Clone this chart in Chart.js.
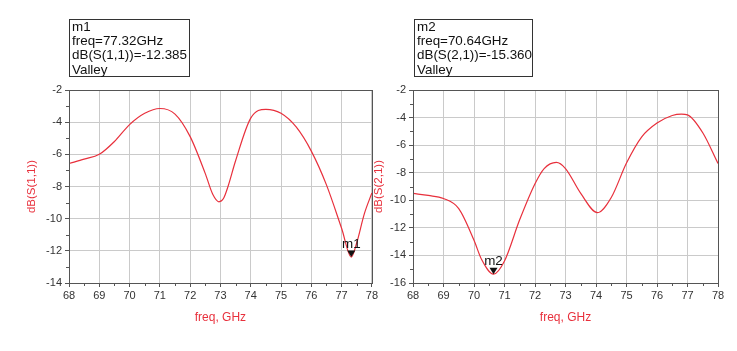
<!DOCTYPE html>
<html>
<head>
<meta charset="utf-8">
<script src="https://cdn.jsdelivr.net/npm/chart.js@4.4.0/dist/chart.umd.min.js"></script>
<style>
body { margin: 0; background: #fff; width: 737px; height: 351px; position: relative; overflow: hidden; font-family: "Liberation Sans", Arial, sans-serif; }
canvas { position: absolute; top: 0; }
#chartS11 { left: 0; }
#chartS21 { left: 360px; }
.marker { position: absolute; top: 19px; height: 58px; border: 1px solid #333; box-sizing: border-box; padding-left: 2px; font-size: 13.4px; line-height: 14.2px; color: #111; white-space: nowrap; }
#boxS11 { left: 69px; width: 121px; }
#boxS21 { left: 414px; width: 119px; }
</style>
</head>
<body>
<canvas id="chartS11" width="380" height="351"></canvas>
<canvas id="chartS21" width="377" height="351"></canvas>
<div class="marker" id="boxS11">m1<br>freq=77.32GHz<br>dB(S(1,1))=-12.385<br>Valley</div>
<div class="marker" id="boxS21">m2<br>freq=70.64GHz<br>dB(S(2,1))=-15.360<br>Valley</div>
<script>
// S11
var freqS11 = [68, 68.5, 69, 69.5, 70, 70.5, 71, 71.5, 72, 72.5, 72.75, 72.95, 73.1, 73.25, 73.5, 74, 74.5, 75, 75.5, 76, 76.5, 77, 77.32, 77.5, 77.75, 78];
var dbS11   = [-6.57, -6.3, -6.0, -5.2, -4.15, -3.45, -3.15, -3.5, -4.9, -7.2, -8.5, -8.95, -8.75, -8.0, -6.4, -3.75, -3.2, -3.45, -4.3, -5.8, -7.9, -10.6, -12.385, -11.5, -9.7, -8.4];

// S21
var freqS21 = [68, 68.5, 69, 69.5, 70, 70.25, 70.64, 71, 71.5, 72, 72.3, 72.7, 73, 73.5, 74.05, 74.5, 75, 75.5, 76, 76.5, 76.8, 77, 77.5, 78];
var dbS21   = [-9.5, -9.65, -9.87, -10.6, -12.9, -14.3, -15.36, -14.4, -11.4, -8.8, -7.7, -7.25, -7.7, -9.5, -10.9, -9.8, -7.3, -5.4, -4.4, -3.85, -3.75, -3.8, -5.1, -7.33];

var xTicks = [68, 69, 70, 71, 72, 73, 74, 75, 76, 77, 78];
var markerS11 = { name: 'm1', freq: 77.32, db: -12.385 };
var markerS21 = { name: 'm2', freq: 70.64, db: -15.360 };

var red = '#e8303c';
var tickFont = { family: '"Liberation Sans", Arial, sans-serif', size: 11 };

var framePlugin = {
    id: 'frame',
    afterDraw: function (chart) {
        var ctx = chart.ctx;
        var a = chart.chartArea;
        var xs = chart.scales.x;
        var ys = chart.scales.y;
        ctx.save();
        ctx.strokeStyle = '#555';
        ctx.lineWidth = 1;
        ctx.strokeRect(Math.round(a.left) + 0.5, Math.round(a.top) + 0.5, Math.round(a.right - a.left), Math.round(a.bottom - a.top));
        // minor ticks
        ctx.beginPath();
        for (var f = xs.min + 0.5; f < xs.max; f += 1) {
            var px = Math.round(xs.getPixelForValue(f)) + 0.5;
            ctx.moveTo(px, a.bottom);
            ctx.lineTo(px, a.bottom + 3);
        }
        for (var v = ys.min + 1; v < ys.max; v += 2) {
            var py = Math.round(ys.getPixelForValue(v)) + 0.5;
            ctx.moveTo(a.left - 3, py);
            ctx.lineTo(a.left, py);
        }
        ctx.stroke();
        // marker
        var m = chart.options.plugins.frame.marker;
        var mx = xs.getPixelForValue(m.freq);
        var my = ys.getPixelForValue(m.db);
        ctx.fillStyle = '#111';
        ctx.beginPath();
        ctx.moveTo(mx, my);
        ctx.lineTo(mx - 4, my - 6.5);
        ctx.lineTo(mx + 4, my - 6.5);
        ctx.closePath();
        ctx.fill();
        ctx.font = '13.4px "Liberation Sans", Arial, sans-serif';
        ctx.textAlign = 'center';
        ctx.textBaseline = 'alphabetic';
        ctx.fillText(m.name, mx, my - 9);
        ctx.restore();
    }
};

function makeChart(id, freq, values, marker, yTitle, yMin, axisWidth, titlePad, rightPad) {
    var points = freq.map(function (f, i) { return { x: f, y: values[i] }; });
    return new Chart(document.getElementById(id).getContext('2d'), {
        type: 'line',
        data: {
            datasets: [{
                data: points,
                borderColor: red,
                borderWidth: 1.2,
                pointRadius: 0,
                fill: false,
                cubicInterpolationMode: 'monotone'
            }]
        },
        options: {
            responsive: false,
            animation: false,
            layout: { padding: { top: 90, right: rightPad, left: 0, bottom: 0 } },
            plugins: {
                legend: { display: false },
                tooltip: { enabled: false },
                frame: { marker: marker }
            },
            scales: {
                x: {
                    type: 'linear',
                    min: xTicks[0],
                    max: xTicks[xTicks.length - 1],
                    afterBuildTicks: function (s) { s.ticks = xTicks.map(function (t) { return { value: t }; }); },
                    ticks: { color: '#333', font: tickFont, padding: 2, maxRotation: 0 },
                    grid: { color: '#cacaca', tickLength: 4, tickColor: '#555' },
                    border: { color: '#555' },
                    title: { display: true, text: 'freq, GHz', color: red, font: { family: tickFont.family, size: 12 }, padding: { top: 0, bottom: 26 } },
                    afterFit: function (s) { s.height = 68; }
                },
                y: {
                    min: yMin,
                    max: -2,
                    ticks: { stepSize: 2, color: '#333', font: tickFont, padding: 3 },
                    grid: { color: '#cacaca', tickLength: 4, tickColor: '#555' },
                    border: { color: '#555' },
                    title: { display: true, text: yTitle, color: red, font: { family: tickFont.family, size: 11.5 }, padding: { top: titlePad, bottom: 0 } },
                    afterFit: function (s) { s.width = axisWidth; }
                }
            }
        },
        plugins: [framePlugin]
    });
}

makeChart('chartS11', freqS11, dbS11, markerS11, 'dB(S(1,1))', -14, 69, 25, 7);
makeChart('chartS21', freqS21, dbS21, markerS21, 'dB(S(2,1))', -16, 53, 12, 19);
</script>
</body>
</html>
